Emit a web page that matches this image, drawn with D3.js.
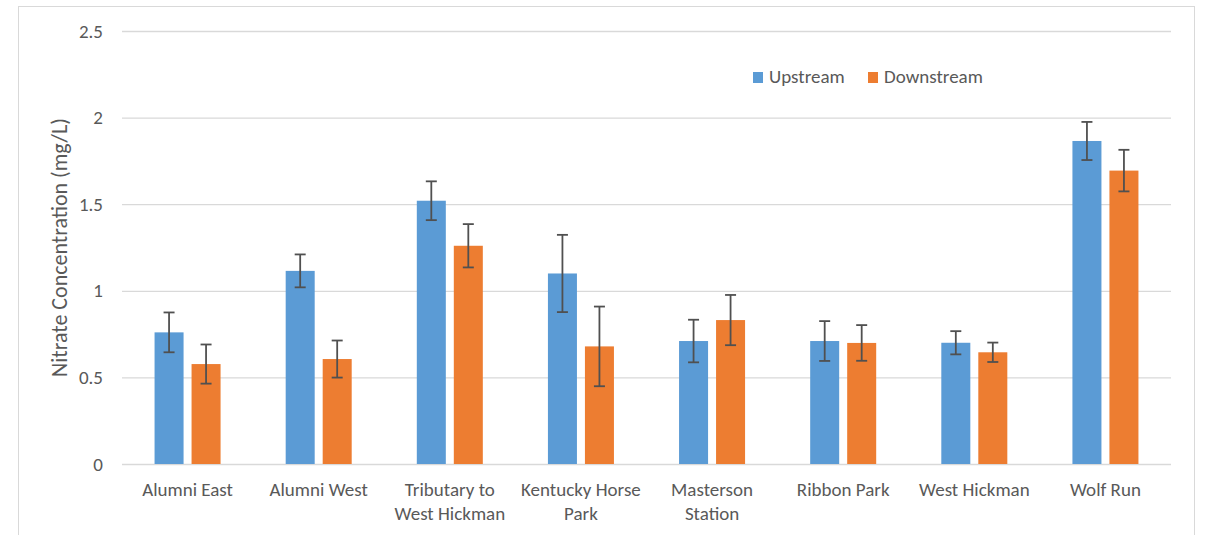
<!DOCTYPE html>
<html>
<head>
<meta charset="utf-8">
<script src="https://cdn.jsdelivr.net/npm/d3@7"></script>
<style>
  body { margin: 0; background: #fff; }
  text { font-family: Calibri, Carlito, Lato, sans-serif; fill: #595959; }
</style>
</head>
<body>
<div id="chart"></div>
<script>
// chart values
var categories = ["Alumni East", "Alumni West", "Tributary to West Hickman", "Kentucky Horse Park",
                  "Masterson Station", "Ribbon Park", "West Hickman", "Wolf Run"];
var labelLines = [["Alumni East"], ["Alumni West"], ["Tributary to", "West Hickman"], ["Kentucky Horse", "Park"],
                  ["Masterson", "Station"], ["Ribbon Park"], ["West Hickman"], ["Wolf Run"]];
var seriesNames = ["Upstream", "Downstream"];
var upstream      = [0.76, 1.115, 1.52, 1.10, 0.71, 0.71, 0.70, 1.865];
var upstreamErr   = [0.115, 0.095, 0.112, 0.223, 0.123, 0.115, 0.067, 0.11];
var downstream    = [0.577, 0.606, 1.26, 0.679, 0.831, 0.699, 0.645, 1.694];
var downstreamErr = [0.113, 0.107, 0.125, 0.23, 0.145, 0.103, 0.056, 0.12];
var yTicks = [0, 0.5, 1, 1.5, 2, 2.5];
var colors = ["#5B9BD5", "#ED7D31"];

var W = 1206, H = 535;
var margin = {top: 31, right: 35, bottom: 71, left: 122},
    width = W - margin.left - margin.right,
    height = H - margin.top - margin.bottom;

var root = d3.select("#chart").append("svg")
    .attr("width", W)
    .attr("height", H);

// outer chart border
root.append("rect")
    .attr("x", 18.5).attr("y", 6.5)
    .attr("width", 1176).attr("height", 540)
    .attr("fill", "none")
    .attr("stroke", "#d9d9d9");

var svg = root.append("g")
    .attr("transform", "translate(" + margin.left + "," + margin.top + ")");

var x0 = d3.scaleBand().domain(categories).range([0, width]).padding(0);
var x1 = d3.scaleBand().domain(seriesNames).range([0, x0.bandwidth()])
    .paddingInner(0.216).paddingOuter(0.88);
var y = d3.scaleLinear().domain([0, 2.5]).range([height, 0]);

// gridlines + y tick labels
var yAxis = svg.append("g")
    .call(d3.axisLeft(y).tickValues(yTicks).tickSize(-width).tickPadding(19)
          .tickFormat(function (d) { return d; }));
yAxis.select(".domain").remove();
yAxis.selectAll("line").attr("stroke", "#d9d9d9").attr("stroke-width", 1.3);
yAxis.selectAll("text")
    .style("font-size", "19px")
    .style("font-family", "Calibri, Carlito, Lato, sans-serif")
    .style("fill", "#595959");

// build rows from the arrays
var rows = categories.map(function (c, i) {
  return {cat: c, vals: [
    {s: seriesNames[0], v: upstream[i], e: upstreamErr[i], c: colors[0]},
    {s: seriesNames[1], v: downstream[i], e: downstreamErr[i], c: colors[1]}
  ]};
});

var groups = svg.append("g").selectAll("g")
    .data(rows).enter().append("g")
    .attr("transform", function (d) { return "translate(" + x0(d.cat) + ",0)"; });

groups.selectAll("rect")
    .data(function (d) { return d.vals; })
    .enter().append("rect")
    .attr("x", function (d) { return x1(d.s); })
    .attr("y", function (d) { return y(d.v); })
    .attr("width", x1.bandwidth())
    .attr("height", function (d) { return height - y(d.v); })
    .attr("fill", function (d) { return d.c; });

// error bars
var capW = 5.5;
var eb = groups.selectAll("g.err")
    .data(function (d) { return d.vals; })
    .enter().append("g").attr("class", "err")
    .attr("stroke", "#505050").attr("stroke-width", 1.8);
eb.append("line")
    .attr("x1", function (d) { return x1(d.s) + x1.bandwidth() / 2; })
    .attr("x2", function (d) { return x1(d.s) + x1.bandwidth() / 2; })
    .attr("y1", function (d) { return y(d.v + d.e); })
    .attr("y2", function (d) { return y(d.v - d.e); });
eb.append("line")
    .attr("x1", function (d) { return x1(d.s) + x1.bandwidth() / 2 - capW; })
    .attr("x2", function (d) { return x1(d.s) + x1.bandwidth() / 2 + capW; })
    .attr("y1", function (d) { return y(d.v + d.e); })
    .attr("y2", function (d) { return y(d.v + d.e); });
eb.append("line")
    .attr("x1", function (d) { return x1(d.s) + x1.bandwidth() / 2 - capW; })
    .attr("x2", function (d) { return x1(d.s) + x1.bandwidth() / 2 + capW; })
    .attr("y1", function (d) { return y(d.v - d.e); })
    .attr("y2", function (d) { return y(d.v - d.e); });

// category labels
var catLabels = svg.append("g").selectAll("text")
    .data(categories).enter().append("text")
    .attr("text-anchor", "middle")
    .attr("x", function (d) { return x0(d) + x0.bandwidth() / 2; })
    .attr("y", height + 32)
    .style("font-size", "19px");
catLabels.each(function (d, i) {
  var t = d3.select(this);
  labelLines[i].forEach(function (line, j) {
    t.append("tspan")
      .attr("x", x0(d) + x0.bandwidth() / 2)
      .attr("dy", j === 0 ? 0 : 23.5)
      .text(line);
  });
});

// y axis title
root.append("text")
    .attr("transform", "rotate(-90)")
    .attr("x", -(margin.top + height / 2))
    .attr("y", 67)
    .attr("text-anchor", "middle")
    .style("font-size", "22px")
    .text("Nitrate Concentration (mg/L)");

// legend
var legend = root.append("g").selectAll("g")
    .data(seriesNames).enter().append("g")
    .attr("transform", function (d, i) { return "translate(" + (753 + i * 115) + ",72)"; });
legend.append("rect")
    .attr("width", 10).attr("height", 11)
    .attr("fill", function (d, i) { return colors[i]; });
legend.append("text")
    .attr("x", 16).attr("y", 11)
    .style("font-size", "19px")
    .text(function (d) { return d; });
</script>
</body>
</html>
